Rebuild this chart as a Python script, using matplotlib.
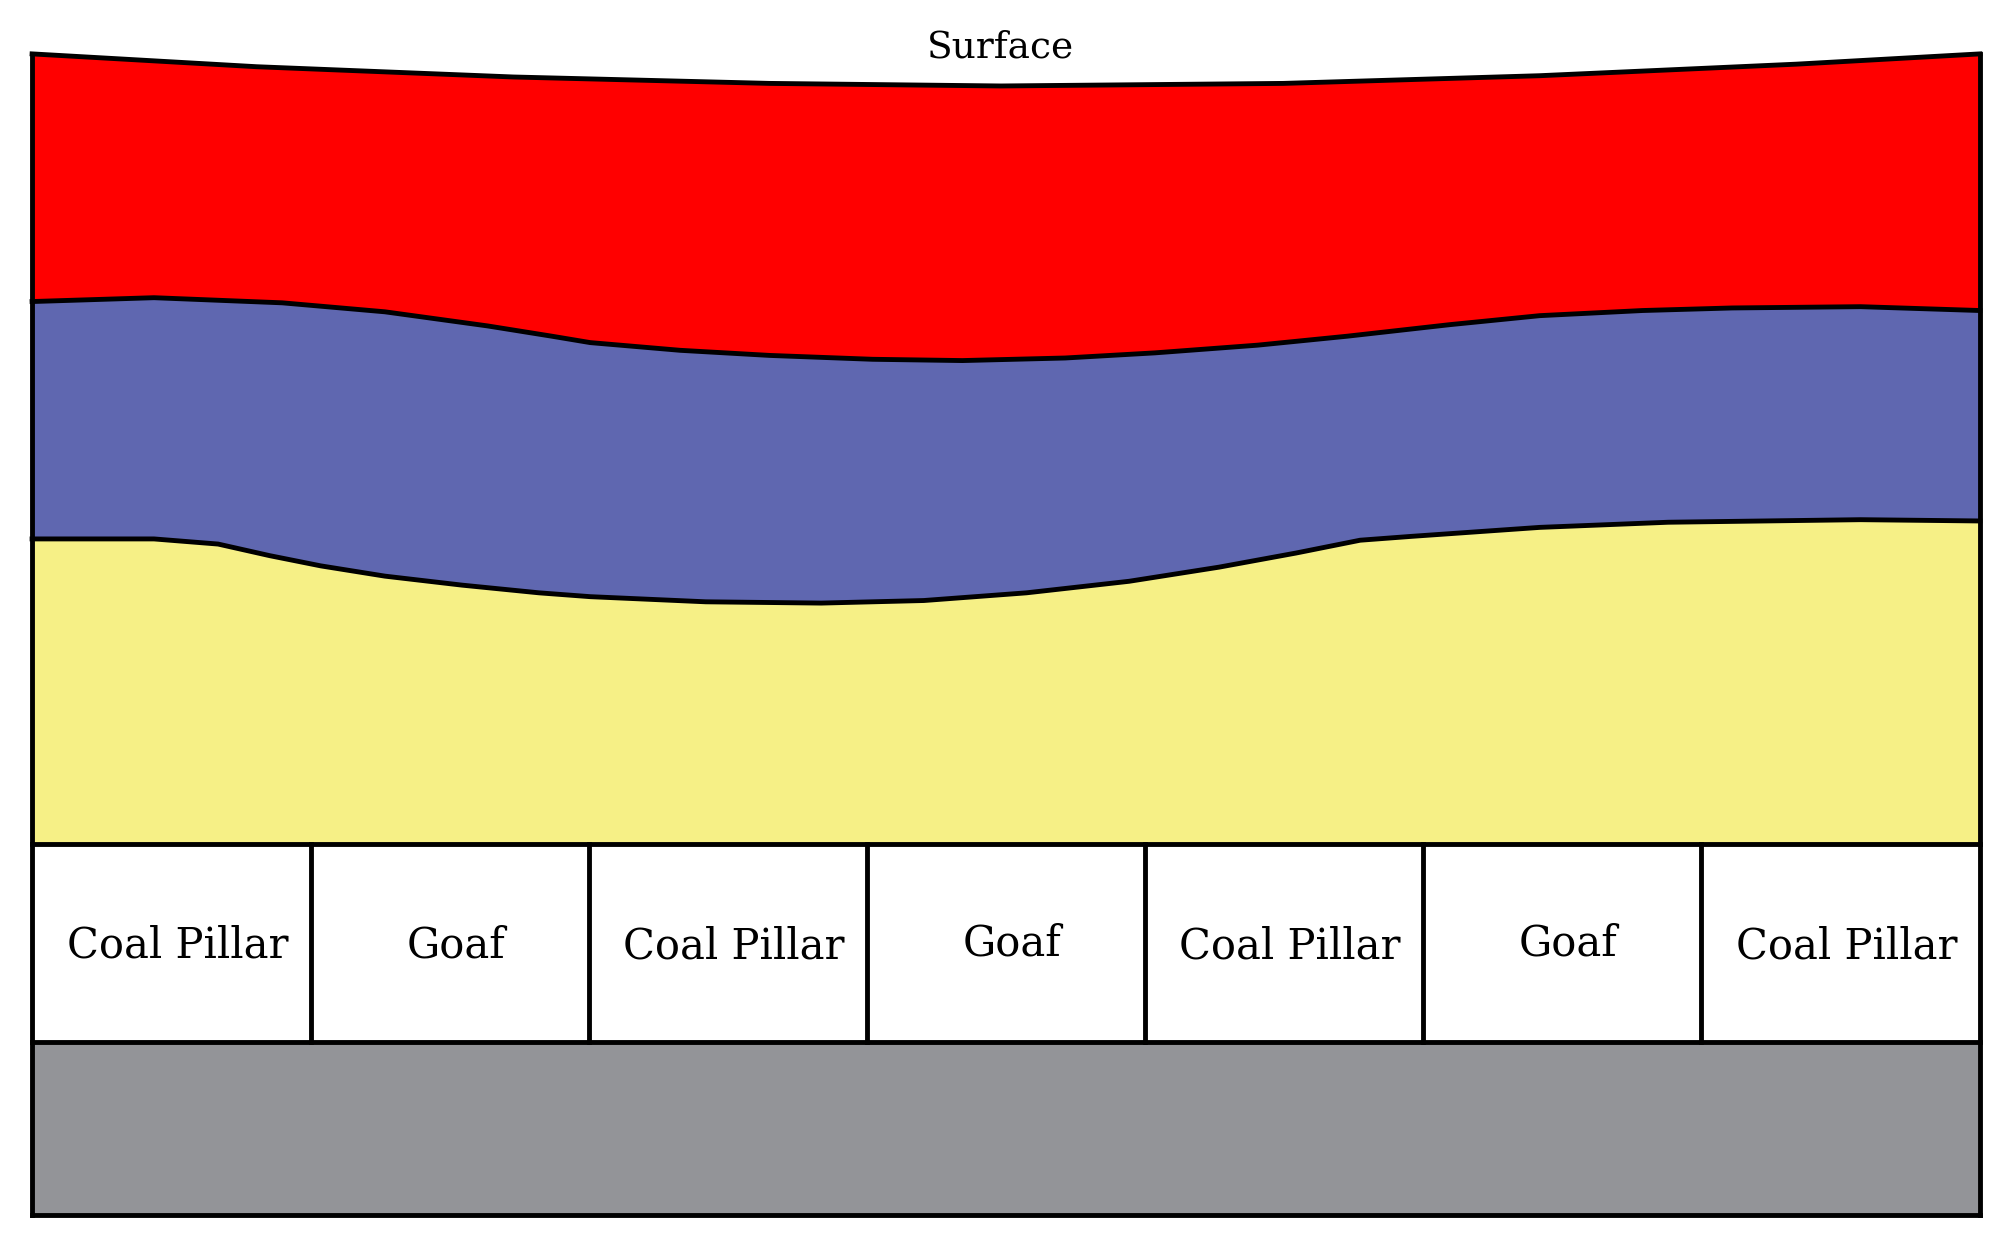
import matplotlib.pyplot as plt
import numpy as np

S = 2012/1568
surface_x = [25, 200, 400, 600, 780, 1000, 1200, 1400, 1543]
surface_y = [42, 52, 60, 65, 67, 65, 59, 50, 42]
b1_x = [25, 120, 220, 300, 380, 430, 460, 530, 600, 680, 750, 830, 900, 980, 1050, 1130, 1200, 1280, 1350, 1450, 1543]
b1_y = [235, 232, 236, 243, 254, 262, 267, 273, 277, 280, 281, 279, 275, 269, 262, 253, 246, 242, 240, 239, 242]
b2_x = [25, 120, 170, 210, 250, 300, 360, 420, 460, 550, 640, 720, 800, 880, 950, 1010, 1060, 1100, 1200, 1300, 1450, 1543]
b2_y = [420, 420, 424, 433, 441, 449, 456, 462, 465, 469, 470, 468, 462, 453, 442, 431, 421, 418, 411, 407, 405, 406]
yellow_bottom = 658
cells_bottom = 812
base_bottom = 947
cell_edges = [25, 242, 459, 676, 892, 1109, 1326, 1543]
cell_labels = ["Coal Pillar", "Goaf", "Coal Pillar", "Goaf", "Coal Pillar", "Goaf", "Coal Pillar"]
label_y = [737, 737, 738, 735, 738, 735, 738]

fig = plt.figure(figsize=(20.12, 12.48), dpi=100)
ax = fig.add_axes([0, 0, 1, 1])
ax.set_xlim(0, 2012); ax.set_ylim(1248, 0); ax.axis('off')

sx = lambda a: np.array(a) * S
lw = 3.5
ax.fill(np.r_[sx(surface_x), sx(b1_x)[::-1]], np.r_[sx(surface_y), sx(b1_y)[::-1]], color='#ff0000', lw=0)
ax.fill(np.r_[sx(b1_x), sx(b2_x)[::-1]], np.r_[sx(b1_y), sx(b2_y)[::-1]], color='#5f67b0', lw=0)
ax.fill(np.r_[sx(b2_x), sx([1543, 25])], np.r_[sx(b2_y), sx([yellow_bottom]*2)], color='#f6f086', lw=0)
ax.fill(sx([25, 1543, 1543, 25]), sx([cells_bottom, cells_bottom, base_bottom, base_bottom]), color='#939498', lw=0)
for xs, ys in [(surface_x, surface_y), (b1_x, b1_y), (b2_x, b2_y)]:
    ax.plot(sx(xs), sx(ys), color='black', lw=lw, solid_joinstyle='round')
L, R = 25*S, 1543*S
ax.plot([L, L], [sx(surface_y)[0], base_bottom*S], color='black', lw=lw)
ax.plot([R, R], [sx(surface_y)[-1], base_bottom*S], color='black', lw=lw)
for y in [yellow_bottom, cells_bottom, base_bottom]:
    ax.plot([L, R], [y*S, y*S], color='black', lw=lw)
for i, lab in enumerate(cell_labels):
    x0, x1 = cell_edges[i]*S, cell_edges[i+1]*S
    if i > 0:
        ax.plot([x0, x0], [yellow_bottom*S, cells_bottom*S], color='black', lw=lw)
    ax.text((x0+x1)/2 + 6, label_y[i]*S, lab, ha='center', va='center', fontsize=30, family='DejaVu Serif')
ax.text(780*S, 37*S, "Surface", ha='center', va='center', fontsize=27, family='DejaVu Serif')
fig.savefig('out.png', dpi=100)
